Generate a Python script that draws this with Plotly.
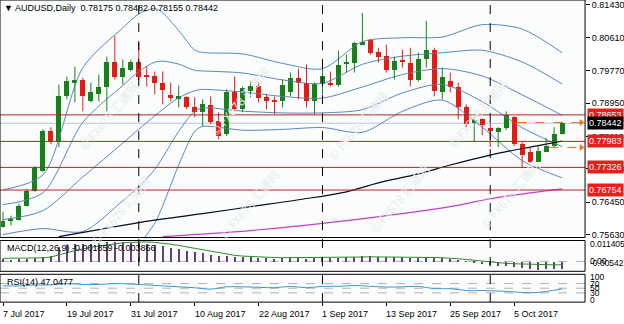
import plotly.graph_objects as go
import pandas as pd

# ---------------- data ----------------
dates = pd.bdate_range("2017-07-07", periods=71)

opens = [0.75830, 0.75981, 0.76006, 0.76358, 0.76734, 0.77237, 0.78241, 0.77965, 0.79120, 0.79471,
         0.79547, 0.78994, 0.79170, 0.79346, 0.79999, 0.79622, 0.79798, 0.79999, 0.79647, 0.79647,
         0.79471, 0.79145, 0.79070, 0.79095, 0.78844, 0.78718, 0.78894, 0.78492, 0.78166, 0.79220,
         0.78793, 0.79245, 0.79371, 0.79095, 0.79019, 0.78994, 0.79220, 0.79597, 0.79471, 0.78994,
         0.79421, 0.79471, 0.79396, 0.79949, 0.79974, 0.80426, 0.80551, 0.80250, 0.80149, 0.79798,
         0.80024, 0.79974, 0.79547, 0.80074, 0.80300, 0.79220, 0.79497, 0.79346, 0.78844, 0.78467,
         0.78542, 0.78317, 0.78216, 0.78317, 0.78593, 0.77915, 0.77714, 0.77463, 0.77714, 0.77864,
         0.78175]
highs = [0.76207, 0.76106, 0.76408, 0.76784, 0.77362, 0.78291, 0.78342, 0.79421, 0.79622, 0.79873,
         0.79597, 0.79471, 0.79672, 0.80124, 0.80652, 0.80049, 0.80049, 0.80476, 0.79873, 0.79748,
         0.79748, 0.79471, 0.79396, 0.79120, 0.79095, 0.79045, 0.79120, 0.78718, 0.79296, 0.79622,
         0.79371, 0.79497, 0.79497, 0.79170, 0.79120, 0.79547, 0.79723, 0.79823, 0.79923, 0.79471,
         0.79923, 0.79748, 0.80275, 0.80175, 0.80501, 0.81229, 0.80576, 0.80350, 0.80426, 0.80124,
         0.80300, 0.80350, 0.80225, 0.81028, 0.80350, 0.79848, 0.79723, 0.79471, 0.78919, 0.78593,
         0.78567, 0.78492, 0.78342, 0.78743, 0.78618, 0.77965, 0.77839, 0.77864, 0.78065, 0.78342,
         0.78482]
lows = [0.75805, 0.75856, 0.75981, 0.76333, 0.76709, 0.77212, 0.77915, 0.77839, 0.79045, 0.78969,
        0.78743, 0.78969, 0.78994, 0.78743, 0.79547, 0.79421, 0.79748, 0.79547, 0.79371, 0.79170,
        0.78919, 0.78994, 0.78844, 0.78793, 0.78593, 0.78367, 0.78417, 0.78040, 0.78116, 0.78743,
        0.78718, 0.79095, 0.78969, 0.78793, 0.78668, 0.78844, 0.79120, 0.79045, 0.78844, 0.78668,
        0.79170, 0.79371, 0.79371, 0.79723, 0.79723, 0.80426, 0.80175, 0.79974, 0.79723, 0.79547,
        0.79848, 0.79371, 0.79497, 0.79848, 0.79120, 0.79045, 0.79220, 0.78542, 0.78342, 0.77965,
        0.78141, 0.77839, 0.77839, 0.78266, 0.77864, 0.77312, 0.77438, 0.77463, 0.77714, 0.77814,
        0.78155]
closes = [0.75981, 0.76006, 0.76358, 0.76734, 0.77312, 0.78241, 0.77965, 0.79120, 0.79497, 0.79547,
          0.79120, 0.79220, 0.79346, 0.79999, 0.79622, 0.79848, 0.79999, 0.79622, 0.79622, 0.79471,
          0.79271, 0.79070, 0.79120, 0.78844, 0.78718, 0.78919, 0.78467, 0.78116, 0.79220, 0.78793,
          0.79321, 0.79371, 0.79070, 0.78994, 0.78994, 0.79396, 0.79597, 0.79471, 0.78994, 0.79446,
          0.79647, 0.79396, 0.79923, 0.79974, 0.80476, 0.80501, 0.80225, 0.80124, 0.79798, 0.80024,
          0.79999, 0.79547, 0.80074, 0.80300, 0.79245, 0.79622, 0.79346, 0.78844, 0.78417, 0.78517,
          0.78392, 0.78241, 0.78317, 0.78643, 0.77915, 0.77639, 0.77463, 0.77739, 0.77864, 0.78166,
          0.78442]

tick_idx = [0, 8, 16, 24, 32, 40, 48, 56, 64]
tick_text = ["7 Jul 2017", "19 Jul 2017", "31 Jul 2017", "10 Aug 2017", "22 Aug 2017",
             "1 Sep 2017", "13 Sep 2017", "25 Sep 2017", "5 Oct 2017"]

price_ticks = [0.81430, 0.80610, 0.79770, 0.78950, 0.78110, 0.77290, 0.76450, 0.75630]
levels = [0.78653, 0.77983, 0.77326, 0.76754]
last_price = 0.78442

# Bollinger (20) middle line and one standard deviation, read at sample bars
bb_idx = [0, 5, 10, 15, 17, 19, 20, 22, 24, 25, 30, 35, 40, 45, 50, 55, 60, 65, 70]
bb_mid = [0.76006, 0.76232, 0.77086, 0.77940, 0.78291, 0.78630, 0.78793, 0.79087, 0.79263, 0.79296,
          0.79230, 0.79120, 0.79077, 0.79358, 0.79672, 0.79823, 0.79637, 0.79160, 0.78643]
bb_sd = [0.00377, 0.00452, 0.01381, 0.01456, 0.01456, 0.01356, 0.01218, 0.00849, 0.00515, 0.00467,
         0.00482, 0.00417, 0.00372, 0.00573, 0.00465, 0.00399, 0.00648, 0.00831, 0.00791]

ma_black_idx = [7, 12, 17, 25, 31, 37, 43, 47, 52, 56, 61, 66, 70]
ma_black = [0.75579, 0.75755, 0.75931, 0.76157, 0.76333, 0.76508, 0.76709, 0.76935, 0.77161,
            0.77387, 0.77638, 0.77839, 0.77990]
ma_mag_idx = [20, 31, 43, 56, 61, 66, 70]
ma_mag = [0.75579, 0.75730, 0.75981, 0.76333, 0.76534, 0.76684, 0.76785]

macd_main = [0.0014, 0.0013, 0.0014, 0.0016, 0.0020, 0.0028, 0.0032, 0.0080, 0.0092, 0.0098,
             0.0100, 0.0100, 0.0101, 0.0106, 0.0106, 0.0106, 0.0105, 0.0102, 0.0098, 0.0093,
             0.0086, 0.0078, 0.0071, 0.0062, 0.0053, 0.0047, 0.0038, 0.0030, 0.0030, 0.0026,
             0.0025, 0.0024, 0.0022, 0.0020, 0.0018, 0.0019, 0.0021, 0.0021, 0.0018, 0.0019,
             0.0020, 0.0020, 0.0022, 0.0024, 0.0027, 0.0030, 0.0030, 0.0029, 0.0027, 0.0026,
             0.0025, 0.0023, 0.0023, 0.0024, 0.0020, 0.0019, 0.0016, 0.0010, 0.0002, -0.0006,
             -0.0012, -0.0018, -0.0022, -0.0022, -0.0028, -0.0035, -0.0040, -0.0042, -0.0041, -0.0040,
             -0.003866]
macd_signal = [0.0017, 0.0017, 0.0017, 0.0017, 0.0018, 0.0019, 0.0024, 0.0034, 0.0047, 0.0059,
               0.0069, 0.0077, 0.0084, 0.0091, 0.0097, 0.0101, 0.0104, 0.0106, 0.0106, 0.0104,
               0.0100, 0.0094, 0.0087, 0.0079, 0.0070, 0.0062, 0.0054, 0.0046, 0.0039, 0.0033,
               0.0029, 0.0026, 0.0024, 0.0022, 0.0021, 0.0020, 0.0020, 0.0020, 0.0020, 0.0020,
               0.0020, 0.0020, 0.0021, 0.0022, 0.0023, 0.0024, 0.0025, 0.0025, 0.0025, 0.0025,
               0.0024, 0.0023, 0.0022, 0.0022, 0.0021, 0.0020, 0.0018, 0.0015, 0.0011, 0.0006,
               0.0001, -0.0004, -0.0008, -0.0011, -0.0013, -0.0015, -0.0017, -0.0018, -0.0019, -0.0019,
               -0.001859]
macd_max, macd_min = 0.011405, -0.005427

rsi_idx = [0, 2, 4, 6, 8, 10, 12, 14, 16, 18, 20, 22, 24, 26, 28, 30, 32, 34, 36, 38, 40, 42, 44,
           46, 48, 50, 52, 54, 56, 58, 60, 62, 64, 66, 68, 70]
rsi = [60, 60, 64, 64, 70, 66, 66, 70, 68, 64, 60, 56, 52, 46, 56, 56, 54, 52, 58, 52, 58, 58, 62,
       58, 55, 56, 58, 48, 48, 40, 40, 38, 34, 30, 36, 47.0477]
rsi_levels = [70, 50, 30]

arrow_levels = [0.78460, 0.77830]
arrow_start = [64.4, 68.4]

watermark_text = "\u00a9 FX678 \u6c47\u901a\u7f51"

# ---------------- geometry ----------------
W, H = 624, 324
XR = [-0.375, 72.875]
XD = [0, 586 / W]
def py(px):
    return 1 - px / H
MAIN = [py(239), py(0)]
MACD = [py(273), py(242)]
RSI = [py(304), py(276)]

idx = list(range(len(closes)))
GREEN = "#17821a"
RED = "#e81a14"
BAND = "#5b86b8"
FONT = "Liberation Sans, Arial, sans-serif"

fig = go.Figure()

for k in (2, 1, 0, -1, -2):
    fig.add_trace(go.Scatter(x=bb_idx, y=[m + k * s for m, s in zip(bb_mid, bb_sd)], mode="lines",
                             line=dict(color=BAND, width=1, shape="spline", smoothing=0.8),
                             hoverinfo="skip", showlegend=False))
fig.add_trace(go.Scatter(x=ma_black_idx, y=ma_black, mode="lines",
                         line=dict(color="#0a0a20", width=1.2, shape="spline"), showlegend=False))
fig.add_trace(go.Scatter(x=ma_mag_idx, y=ma_mag, mode="lines",
                         line=dict(color="#c040c8", width=1.2, shape="spline"), showlegend=False))

for up in (True, False):
    wx, wy = [], []
    for i in idx:
        if (closes[i] >= opens[i]) == up:
            wx += [i, i, None]
            wy += [lows[i], highs[i], None]
    fig.add_trace(go.Scatter(x=wx, y=wy, mode="lines", line=dict(color=GREEN if up else RED, width=1),
                             hoverinfo="skip", showlegend=False))
fig.add_trace(go.Bar(x=idx, base=[min(o, c) for o, c in zip(opens, closes)],
                     y=[max(abs(c - o), 0.00012) for o, c in zip(opens, closes)],
                     width=0.625, marker=dict(color=[GREEN if c >= o else RED for o, c in zip(opens, closes)],
                                              line=dict(width=0)),
                     hoverinfo="skip", showlegend=False))

fig.add_trace(go.Scatter(x=[72.4] * len(arrow_levels), y=arrow_levels, mode="markers",
                         marker=dict(symbol="triangle-right", size=6, color="#f07020"),
                         showlegend=False, hoverinfo="skip"))

fig.add_trace(go.Bar(x=idx, y=macd_main, width=0.15, marker=dict(color="#6a3d78", line=dict(width=0)),
                     xaxis="x2", yaxis="y2", showlegend=False, hoverinfo="skip"))
fig.add_trace(go.Scatter(x=idx, y=macd_signal, mode="lines", line=dict(color="#2e8b2e", width=1),
                         xaxis="x2", yaxis="y2", showlegend=False, hoverinfo="skip"))
fig.add_trace(go.Scatter(x=rsi_idx, y=rsi, mode="lines", line=dict(color="#3a9ad6", width=1, shape="spline"),
                         xaxis="x3", yaxis="y3", showlegend=False, hoverinfo="skip"))

shapes = []
shapes.append(dict(type="line", xref="paper", yref="y", x0=0, x1=XD[1], y0=last_price, y1=last_price,
                   line=dict(color="#b4c4d8", width=1), layer="below"))
for lv in levels:
    shapes.append(dict(type="line", xref="paper", yref="y", x0=0, x1=XD[1], y0=lv, y1=lv,
                       line=dict(color="#b42222", width=1), layer="above"))
for lv, st in zip(arrow_levels, arrow_start):
    shapes.append(dict(type="line", xref="x", yref="y", x0=st, x1=72.3, y0=lv, y1=lv,
                       line=dict(color="#f07020", width=1, dash="dash")))
shapes.append(dict(type="line", xref="paper", yref="y2", x0=0, x1=XD[1], y0=0, y1=0,
                   line=dict(color="#b0b0b0", width=1, dash="dash"), layer="below"))
for lv in rsi_levels:
    shapes.append(dict(type="line", xref="paper", yref="y3", x0=0, x1=XD[1], y0=lv, y1=lv,
                       line=dict(color="#b0b0b0", width=1, dash="dash"), layer="below"))
for i in idx[1:]:
    if dates[i].month != dates[i - 1].month:
        shapes.append(dict(type="line", xref="x", yref="paper", x0=i, x1=i, y0=RSI[0], y1=1,
                           line=dict(color="#000000", width=1, dash="dash")))
for d in (MAIN, MACD, RSI):
    shapes.append(dict(type="rect", xref="paper", yref="paper", x0=0, x1=XD[1], y0=d[0], y1=d[1],
                       line=dict(color="#000000", width=1)))

ann = []
wm_pos = [(72, 75), (240, 60), (358, 85), (515, 73), (84, 212), (250, 205), (400, 200), (548, 195)]
for wx, wy in wm_pos:
    ann.append(dict(xref="paper", yref="paper", x=wx / W, y=py(wy), text=watermark_text, showarrow=False,
                    textangle=-50, font=dict(family="Noto Sans CJK SC, sans-serif", size=12, color="#e8ecec")))
ann.append(dict(xref="paper", yref="paper", x=2 / W, y=py(8), xanchor="left", yanchor="middle",
                text="\u25bc AUDUSD,Daily  0.78175 0.78482 0.78155 0.78442", showarrow=False,
                font=dict(family=FONT, size=9, color="#000")))
ann.append(dict(xref="paper", yref="paper", x=5 / W, y=py(250), xanchor="left", yanchor="middle",
                text="MACD(12,26,9) -0.001859 -0.003866", showarrow=False,
                font=dict(family=FONT, size=9, color="#000")))
ann.append(dict(xref="paper", yref="paper", x=5 / W, y=py(284), xanchor="left", yanchor="middle",
                text="RSI(14) 47.0477", showarrow=False, font=dict(family=FONT, size=9, color="#000")))
for lv in levels:
    ann.append(dict(xref="paper", yref="y", x=588 / W, y=lv, xanchor="left", yanchor="middle",
                    text="%.5f" % lv, showarrow=False, bgcolor="#e8201c", borderpad=1,
                    font=dict(family=FONT, size=9, color="#fff")))
ann.append(dict(xref="paper", yref="y", x=588 / W, y=last_price, xanchor="left", yanchor="middle",
                text="%.5f" % last_price, showarrow=False, bgcolor="#000000", borderpad=1,
                font=dict(family=FONT, size=9, color="#fff")))
for txt, yy in (("0.011405", macd_max * 0.85), ("-0.005427", -0.0011), ("0.00", 0)):
    ann.append(dict(xref="paper", yref="y2", x=589 / W, y=yy, xanchor="left", yanchor="middle",
                    text=txt, showarrow=False, font=dict(family=FONT, size=8.5, color="#000")))
for v in (100, 70, 50, 30, 0):
    ann.append(dict(xref="paper", yref="y3", x=589 / W, y=v, xanchor="left", yanchor="middle",
                    text=str(v), showarrow=False, font=dict(family=FONT, size=8.5, color="#000")))
for i, t in zip(tick_idx, tick_text):
    ann.append(dict(xref="x3", yref="paper", x=i, y=py(316), xanchor="left", yanchor="middle",
                    xshift=-2, text=t, showarrow=False, font=dict(family=FONT, size=9, color="#000")))

axis_x = dict(range=XR, domain=XD, showgrid=False, zeroline=False, showticklabels=False, fixedrange=True)
fig.update_layout(
    width=W, height=H, margin=dict(l=0, r=0, t=0, b=0),
    paper_bgcolor="#ffffff", plot_bgcolor="#fbfdfd",
    barmode="overlay", bargap=0, showlegend=False,
    xaxis=dict(axis_x, anchor="y"),
    xaxis2=dict(axis_x, anchor="y2"),
    xaxis3=dict(axis_x, anchor="y3", ticks="outside", ticklen=3, tickcolor="#000", tickvals=tick_idx),
    yaxis=dict(domain=MAIN, range=[0.75554, 0.81556], side="right", showgrid=False, zeroline=False,
               tickvals=price_ticks, ticktext=["%.5f" % v for v in price_ticks], ticks="outside",
               ticklen=4, tickcolor="#000", tickfont=dict(family=FONT, size=9, color="#000")),
    yaxis2=dict(domain=MACD, range=[macd_min, macd_max], side="right", showgrid=False,
                zeroline=False, showticklabels=False),
    yaxis3=dict(domain=RSI, range=[-10, 110], side="right", showgrid=False, zeroline=False,
                showticklabels=False),
)
fig.layout.shapes = shapes
fig.layout.annotations = ann
fig.write_html("out.html")
